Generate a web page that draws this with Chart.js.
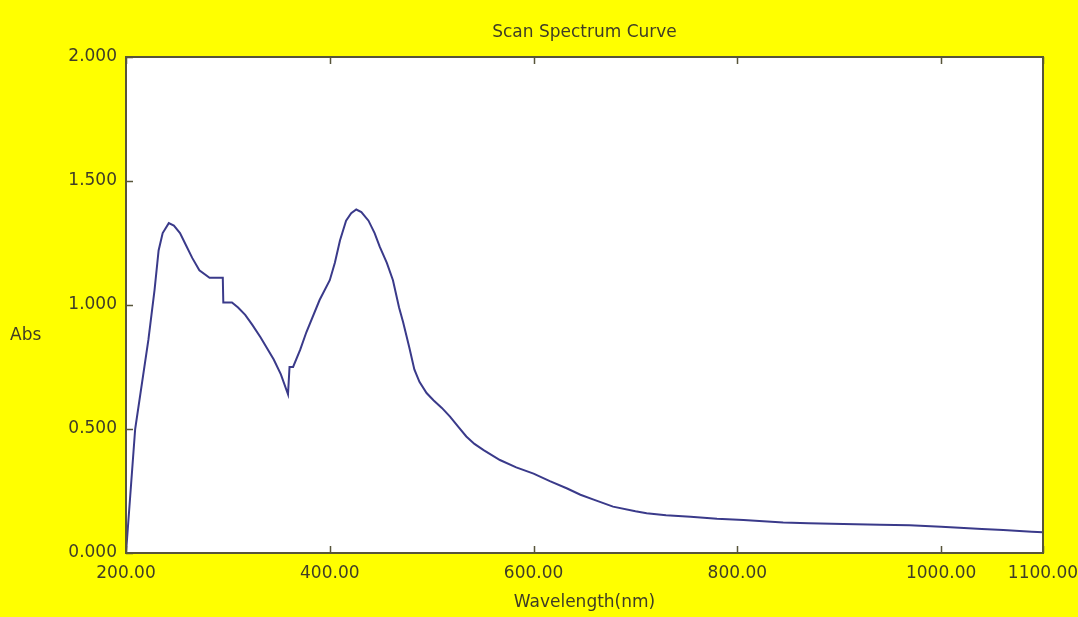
<!DOCTYPE html>
<html>
<head>
<meta charset="utf-8">
<title>Scan Spectrum Curve</title>
<script src="https://cdn.jsdelivr.net/npm/chart.js@4.4.1/dist/chart.umd.min.js"></script>
<style>
  html, body { margin: 0; padding: 0; background: #ffff00; }
  #spectrum { display: block; }
</style>
</head>
<body>
<canvas id="spectrum" width="1078" height="617"></canvas>
<script>
// wavelength (nm) and absorbance
const wavelengths = [
  200, 209, 222, 228, 232, 236, 242, 247, 253, 259, 265, 272, 282, 295, 295.5,
  304, 310, 317, 324, 332, 345, 352, 359, 360.5, 364, 371, 377, 390, 400, 405,
  410, 416, 421, 426, 431, 438, 444, 449, 456, 462, 468, 472, 478, 483, 488,
  495, 502, 510, 518, 526, 534, 542, 551, 567, 583, 600, 616, 633, 646, 659,
  678, 700, 711, 730, 754, 780, 806, 845, 870, 904, 940, 969, 1000, 1018, 1040,
  1061, 1089, 1100
];
const absorbance = [
  0.00, 0.50, 0.86, 1.06, 1.22, 1.29, 1.33, 1.32, 1.29, 1.24, 1.19, 1.14, 1.11, 1.11, 1.01,
  1.01, 0.99, 0.96, 0.92, 0.87, 0.78, 0.72, 0.64, 0.75, 0.75, 0.82, 0.89, 1.02, 1.10, 1.17,
  1.26, 1.34, 1.37, 1.385, 1.375, 1.34, 1.29, 1.235, 1.17, 1.10, 0.99, 0.93, 0.83, 0.74, 0.69,
  0.645, 0.615, 0.585, 0.55, 0.51, 0.47, 0.44, 0.415, 0.375, 0.345, 0.32, 0.29, 0.26, 0.235, 0.215,
  0.187, 0.168, 0.16, 0.152, 0.146, 0.138, 0.133, 0.123, 0.12, 0.117, 0.114, 0.112, 0.106, 0.102, 0.097,
  0.093, 0.086, 0.084
];
const xTickValues = [200, 400, 600, 800, 1000, 1100];
const yTickValues = [0, 0.5, 1.0, 1.5, 2.0];

const chartTitle = "Scan Spectrum Curve";
const xTitle = "Wavelength(nm)";
const yTitle = "Abs";

const textColor = "#3f3d26";
const frameColor = "#57553a";
const fontFamily = "'DejaVu Sans', sans-serif";

// white plot area, frame, inward ticks and the non-rotated labels
const framePlugin = {
  id: "frame",
  beforeDraw(chart) {
    const { ctx, chartArea: a } = chart;
    ctx.save();
    ctx.fillStyle = "#ffffff";
    ctx.fillRect(a.left, a.top, a.right - a.left, a.bottom - a.top);
    ctx.restore();
  },
  afterDraw(chart) {
    const { ctx, chartArea: a, scales } = chart;
    ctx.save();
    ctx.strokeStyle = frameColor;
    ctx.lineWidth = 2;
    ctx.strokeRect(a.left, a.top, a.right - a.left, a.bottom - a.top);

    ctx.lineWidth = 1.5;
    ctx.beginPath();
    xTickValues.forEach((v) => {
      const px = Math.round(scales.x.getPixelForValue(v)) + 0.5;
      ctx.moveTo(px, a.bottom);
      ctx.lineTo(px, a.bottom - 7);
      ctx.moveTo(px, a.top);
      ctx.lineTo(px, a.top + 7);
    });
    yTickValues.forEach((v) => {
      const py = Math.round(scales.y.getPixelForValue(v)) + 0.5;
      ctx.moveTo(a.left, py);
      ctx.lineTo(a.left + 7, py);
    });
    ctx.stroke();

    ctx.fillStyle = textColor;
    ctx.font = "17px " + fontFamily;
    ctx.textBaseline = "middle";
    ctx.textAlign = "center";
    ctx.fillText(chartTitle, (a.left + a.right) / 2, 33);
    ctx.textAlign = "left";
    ctx.fillText(yTitle, 10, 336);
    ctx.restore();
  },
};

const ctx = document.getElementById("spectrum").getContext("2d");

new Chart(ctx, {
  type: "line",
  data: {
    datasets: [
      {
        data: wavelengths.map((w, i) => ({ x: w, y: absorbance[i] })),
        borderColor: "#3a3a8a",
        borderWidth: 2,
        pointRadius: 0,
        tension: 0,
        fill: false,
      },
    ],
  },
  options: {
    responsive: false,
    animation: false,
    devicePixelRatio: 1,
    layout: {
      padding: { top: 57, right: 35, bottom: 0, left: 0 },
    },
    plugins: {
      legend: { display: false },
      tooltip: { enabled: false },
      title: { display: false },
    },
    scales: {
      x: {
        type: "linear",
        min: 200,
        max: 1100,
        grid: { display: false, drawTicks: false },
        border: { display: false },
        afterBuildTicks: (scale) => {
          scale.ticks = xTickValues.map((v) => ({ value: v }));
        },
        afterFit: (scale) => {
          scale.height = 64;
          scale.paddingLeft = 0;
          scale.paddingRight = 0;
        },
        ticks: {
          padding: 10,
          maxRotation: 0,
          autoSkip: false,
          color: textColor,
          font: { family: fontFamily, size: 17 },
          callback: (v) => Number(v).toFixed(2),
        },
        title: {
          display: true,
          text: xTitle,
          color: textColor,
          font: { family: fontFamily, size: 17 },
          padding: { top: 0, bottom: 4 },
        },
      },
      y: {
        min: 0,
        max: 2,
        grid: { display: false, drawTicks: false },
        border: { display: false },
        afterBuildTicks: (scale) => {
          scale.ticks = yTickValues.map((v) => ({ value: v }));
        },
        afterFit: (scale) => {
          scale.width = 126;
          scale.paddingTop = 0;
          scale.paddingBottom = 0;
        },
        ticks: {
          padding: 9,
          color: textColor,
          font: { family: fontFamily, size: 17 },
          callback: (v) => Number(v).toFixed(3),
        },
      },
    },
  },
  plugins: [framePlugin],
});
</script>
</body>
</html>
